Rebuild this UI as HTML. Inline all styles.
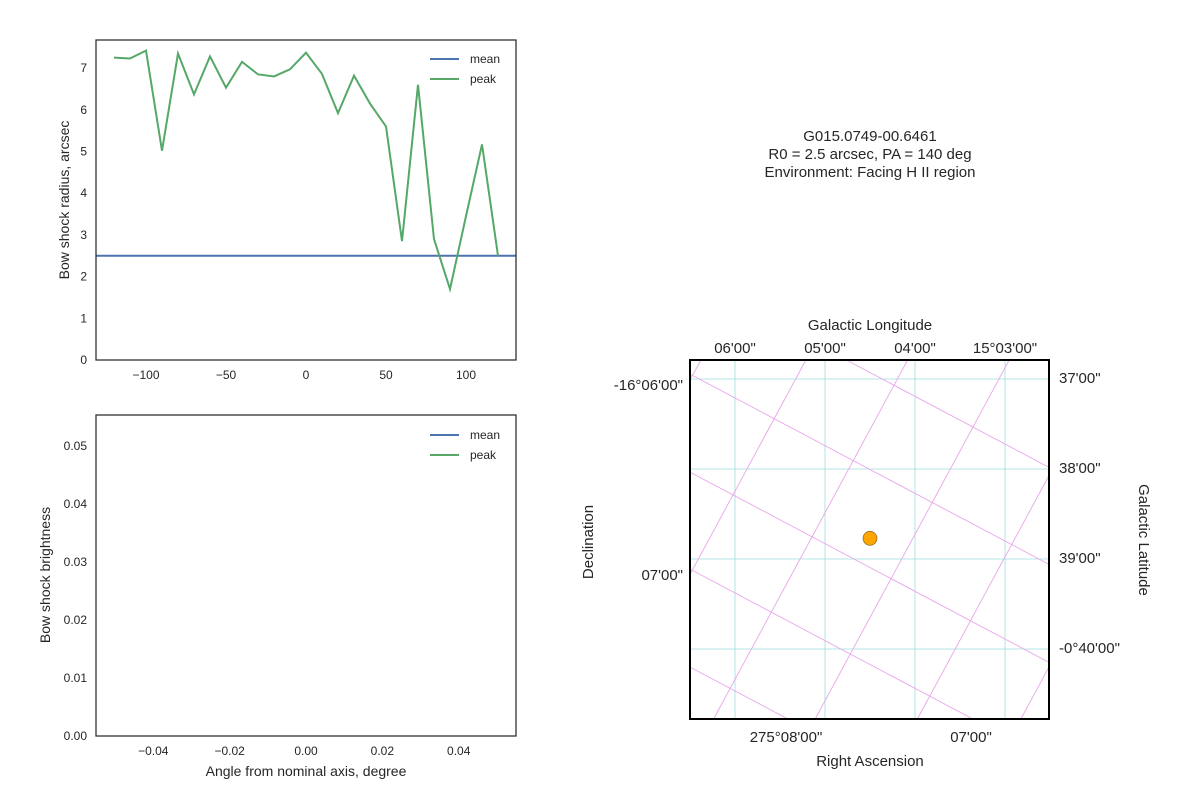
<!DOCTYPE html>
<html><head><meta charset="utf-8"><style>
html,body{margin:0;background:#fff;font-family:"Liberation Sans",sans-serif;overflow:hidden;width:1200px;height:800px}
svg{display:block}
svg text{font-family:"Liberation Sans",sans-serif;fill:#262626}
</style></head><body>
<svg width="1200" height="800" viewBox="0 0 1200 800">
<g id="top"></g>
<g id="bot"></g>
<g id="map"></g>
<g font-size="15" text-anchor="middle">
<text x="870" y="141">G015.0749-00.6461</text>
<text x="870" y="159">R0 = 2.5 arcsec, PA = 140 deg</text>
<text x="870" y="177">Environment: Facing H II region</text>
</g>
</svg>
<script>
const NS="http://www.w3.org/2000/svg";
function mk(p,tag,a,txt){const e=document.createElementNS(NS,tag);for(const k in a)e.setAttribute(k,a[k]);if(txt!=null)e.textContent=txt;p.appendChild(e);return e;}
const angles=[-120,-110,-100,-90,-80,-70,-60,-50,-40,-30,-20,-10,0,10,20,30,40,50,60,70,80,90,100,110,120];
const peakRadius=[7.25,7.23,7.42,5.02,7.35,6.37,7.28,6.53,7.15,6.85,6.80,6.97,7.37,6.86,5.92,6.82,6.15,5.60,2.85,6.60,2.90,1.70,3.45,5.17,2.50];
const meanRadius=2.5;
const topXTicks=[-100,-50,0,50,100];
const topYTicks=[0,1,2,3,4,5,6,7];
const botXTicks=[-0.04,-0.02,0.00,0.02,0.04];
const botYTicks=[0.00,0.01,0.02,0.03,0.04,0.05];

const T=document.getElementById('top');
const L1=96,R1=516,TT=40,TB=360;
const xT=v=>L1+(v+131.25)/262.5*(R1-L1);
const yT=v=>TB-v*41.7;
for(const t of topXTicks){const el=mk(T,'text',{x:xT(t),y:TB+19,'font-size':12,'text-anchor':'middle'},String(t).replace('-','−'));
}
for(const t of topYTicks){const el=mk(T,'text',{x:L1-9,y:yT(t)+4,'font-size':12,'text-anchor':'end'},t);
}
let e=mk(T,'text',{x:69,y:200,'font-size':14,'text-anchor':'middle',transform:'rotate(-90 69 200)'},'Bow shock radius, arcsec');

e=mk(T,'line',{x1:L1,x2:R1,y1:yT(meanRadius),y2:yT(meanRadius),stroke:'#4c72b0','stroke-width':2});

e=mk(T,'polyline',{points:angles.map((a,i)=>xT(a)+','+yT(peakRadius[i])).join(' '),fill:'none',stroke:'#55a868','stroke-width':2});

e=mk(T,'rect',{x:L1,y:TT,width:R1-L1,height:TB-TT,fill:'none',stroke:'#333','stroke-width':1.3});


function legend(g,y0){
 const items=[['mean','#4c72b0'],['peak','#55a868']];
 items.forEach((it,i)=>{const y=y0+i*20;
  let l=mk(g,'line',{x1:430,x2:459,y1:y,y2:y,stroke:it[1],'stroke-width':2});
  
  let t=mk(g,'text',{x:470,y:y+4,'font-size':12},it[0]);
  });
}
legend(T,59);

const B=document.getElementById('bot');
const BT=415,BB=736;
const xB=v=>L1+(v+0.055)/0.11*(R1-L1);
const yB=v=>BB-v*5800;
for(const t of botXTicks){const el=mk(B,'text',{x:xB(t),y:BB+19,'font-size':12,'text-anchor':'middle'},t.toFixed(2).replace('-','−'));
}
for(const t of botYTicks){const el=mk(B,'text',{x:L1-9,y:yB(t)+4,'font-size':12,'text-anchor':'end'},t.toFixed(2));
}
e=mk(B,'text',{x:50,y:575,'font-size':14,'text-anchor':'middle',transform:'rotate(-90 50 575)'},'Bow shock brightness');

e=mk(B,'text',{x:306,y:776,'font-size':14,'text-anchor':'middle'},'Angle from nominal axis, degree');

e=mk(B,'rect',{x:L1,y:BT,width:R1-L1,height:BB-BT,fill:'none',stroke:'#333','stroke-width':1.3});

legend(B,435);

const M=document.getElementById('map');
const ML=690,MR=1049,MT=360,MB=719;
const raX=[735,825,915,1005], decY=[379,469,559,649];
for(const x of raX){e=mk(M,'line',{x1:x,x2:x,y1:MT,y2:MB,stroke:'#9fdede','stroke-width':0.8});}
for(const y of decY){e=mk(M,'line',{x1:ML,x2:MR,y1:y,y2:y,stroke:'#9fdede','stroke-width':0.8});}
// clip a segment to the map box (Liang-Barsky)
function clip(x0,y0,x1,y1){let t0=0,t1=1;const dx=x1-x0,dy=y1-y0;
 const p=[-dx,dx,-dy,dy],q=[x0-ML,MR-x0,y0-MT,MB-y0];
 for(let i=0;i<4;i++){if(p[i]===0){if(q[i]<0)return null;}else{const r=q[i]/p[i];if(p[i]<0){if(r>t1)return null;if(r>t0)t0=r;}else{if(r<t0)return null;if(r<t1)t1=r;}}}
 return [x0+t0*dx,y0+t0*dy,x0+t1*dx,y0+t1*dy];}
const latOff=[278,375,473,570,668];
for(const o of latOff){const c=clip(600,o-0.53*91.7,1100,o+0.53*(1100-691.7));if(!c)continue;
 e=mk(M,'line',{x1:c[0],y1:c[1],x2:c[2],y2:c[3],stroke:'#e9a6ea','stroke-width':0.9});}
const lonOff=[700,805,906.7,1008.3,1110.5,1214];
for(const o of lonOff){const c=clip(o+(361.7-300)/1.85,300,o-(760-361.7)/1.85,760);if(!c)continue;
 e=mk(M,'line',{x1:c[0],y1:c[1],x2:c[2],y2:c[3],stroke:'#e9a6ea','stroke-width':0.9});}
e=mk(M,'circle',{cx:870,cy:538.3,r:7,fill:'#ffa500',stroke:'#7a5a10','stroke-width':0.6});

e=mk(M,'rect',{x:ML,y:MT,width:MR-ML,height:MB-MT,fill:'none',stroke:'#000','stroke-width':2});

const lbl=(x,y,t,anc,name,rot)=>{const a={x:x,y:y,'font-size':15,'text-anchor':anc};if(rot)a.transform='rotate('+rot+' '+x+' '+y+')';const el=mk(M,'text',a,t);};
[['06\'00"',735],['05\'00"',825],['04\'00"',915],['15°03\'00"',1005]].forEach(d=>lbl(d[1],353,d[0],'middle','glon-tick-label'));
lbl(870,330,'Galactic Longitude','middle','top-axis-title');
lbl(683,390,'-16°06\'00"','end','dec-tick-label');
lbl(683,580,'07\'00"','end','dec-tick-label');
[['37\'00"',383],['38\'00"',473],['39\'00"',563],['-0°40\'00"',653]].forEach(d=>lbl(1059,d[1],d[0],'start','glat-tick-label'));
lbl(1139,540,'Galactic Latitude','middle','right-axis-title',90);
lbl(593,542,'Declination','middle','left-axis-title',-90);
lbl(786,742,'275°08\'00"','middle','ra-tick-label');
lbl(971,742,'07\'00"','middle','ra-tick-label');
lbl(870,766,'Right Ascension','middle','bottom-axis-title');
</script>
</body></html>
